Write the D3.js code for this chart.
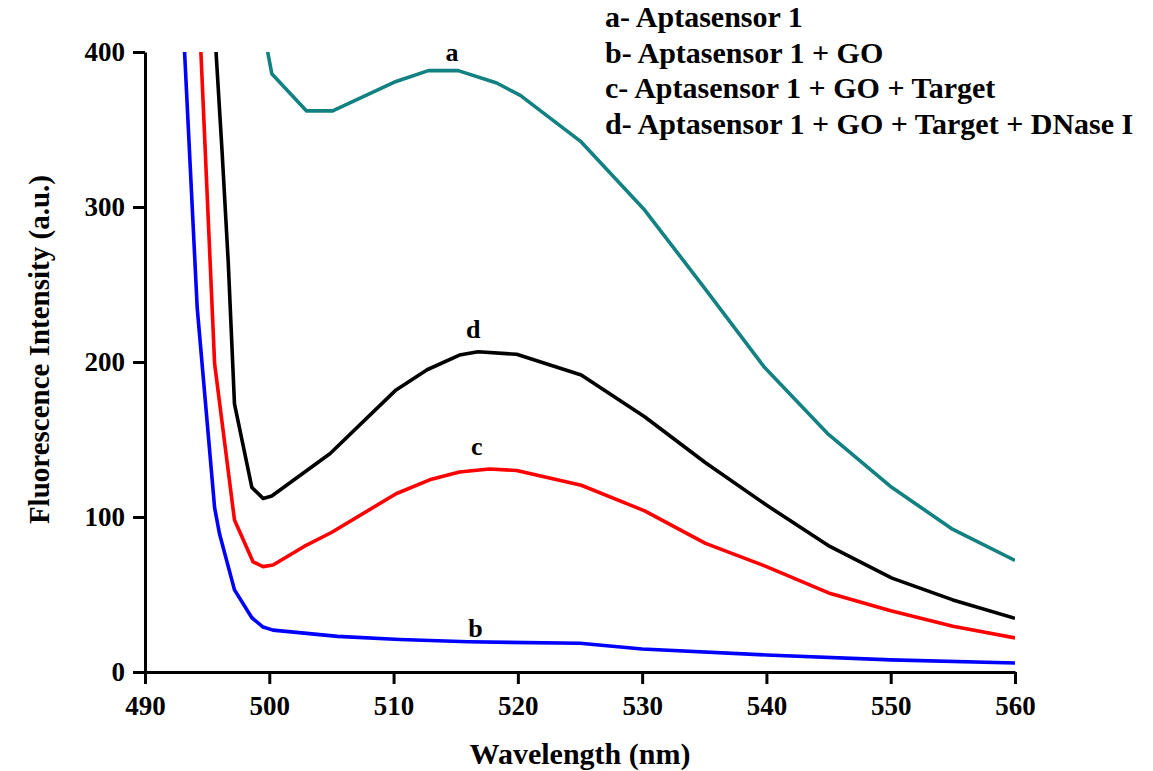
<!DOCTYPE html>
<html>
<head>
<meta charset="utf-8">
<script src="https://cdn.jsdelivr.net/npm/d3@7"></script>
<style>
  body { margin: 0; background: #fff; }
  svg text { font-family: "Liberation Serif", "Times New Roman", serif; font-weight: bold; fill: #000; }
</style>
</head>
<body>
<div id="chart"></div>
<script>
// frame
const MARGINS = { left: 145, right: 138, top: 52, bottom: 99 };
const FRAME_WIDTH = 1153;
const FRAME_HEIGHT = 771;
const VIS_WIDTH = FRAME_WIDTH - MARGINS.left - MARGINS.right;
const VIS_HEIGHT = FRAME_HEIGHT - MARGINS.top - MARGINS.bottom;

// data: [wavelength nm, intensity a.u.]
const curveA = [[499.5,416],[500.2,386],[503,362],[505.1,362],[510.2,381],[512.8,388],[515.2,388],
  [518.3,380],[520.2,372],[525.1,342],[530.2,298],[534.9,249],[539.8,197],[544.9,154],
  [550.1,119],[555,92],[560,72]];
const curveB = [[493.0,430],[494.2,235],[495.6,106],[496.0,89],[497.2,53],[498.6,35],[499.5,29],
  [500.3,27],[505.5,23],[510.5,21],[516,19.5],[525,18.5],[530,14.8],[540,11],[550,7.8],[560,5.8]];
const curveC = [[494.3,436],[495.6,199],[497.2,98],[498.7,71],[499.5,68],[500.3,69],[502.8,81],
  [505,90],[510.2,115],[512.9,124],[515.3,129],[517.7,131],[519.9,130],[525.1,120.5],
  [530.2,104],[535.1,83],[540,68],[545,51],[550,39.5],[555,29.5],[560,22]];
const curveD = [[495.3,455],[496.2,336],[496.7,264],[497.2,173],[498.6,119],[499.5,112],[500.2,113.5],
  [504.9,141],[510.2,182],[512.7,195],[515.3,204.5],[516.8,206.6],[519.9,205],[525.1,191.6],
  [530.2,164.7],[535.1,135],[540,107.7],[545.1,81],[550.1,60.6],[555,46.5],[560,34.6]];

const seriesNames = ["a", "b", "c", "d"];
const seriesColors = ["#128181", "#0000ff", "#ff0000", "#000000"];
// where the little letter sits next to each curve
const labelPos = [[514.7, 394], [516.6, 22.5], [516.7, 140], [516.4, 215.5]];

const legendLines = ["a- Aptasensor 1", "b- Aptasensor 1 + GO", "c- Aptasensor 1 + GO + Target",
  "d- Aptasensor 1 + GO + Target + DNase I"];
const xTicks = [490, 500, 510, 520, 530, 540, 550, 560];
const yTicks = [0, 100, 200, 300, 400];

const FRAME = d3.select("#chart")
    .append("svg")
    .attr("width", FRAME_WIDTH)
    .attr("height", FRAME_HEIGHT);

const xScale = d3.scaleLinear().domain([490, 560]).range([0, VIS_WIDTH]);
const yScale = d3.scaleLinear().domain([0, 400]).range([VIS_HEIGHT, 0]);

const g = FRAME.append("g")
    .attr("transform", "translate(" + MARGINS.left + "," + MARGINS.top + ")");

g.append("clipPath").attr("id", "plotclip")
    .append("rect")
    .attr("x", 0).attr("y", 0)
    .attr("width", VIS_WIDTH).attr("height", VIS_HEIGHT);

const line = d3.line()
    .x(d => xScale(d[0]))
    .y(d => yScale(d[1]));

const allCurves = [curveA, curveB, curveC, curveD];
g.append("g").attr("clip-path", "url(#plotclip)")
    .selectAll("path")
    .data(allCurves)
    .enter()
    .append("path")
    .attr("d", d => line(d))
    .attr("fill", "none")
    .attr("stroke", (d, i) => seriesColors[i])
    .attr("stroke-width", 3.6)
    .attr("stroke-linejoin", "round");

// curve letters
g.selectAll(".lbl")
    .data(labelPos)
    .enter()
    .append("text")
    .attr("class", "lbl")
    .attr("x", d => xScale(d[0]))
    .attr("y", d => yScale(d[1]))
    .attr("text-anchor", "middle")
    .attr("font-size", "26px")
    .text((d, i) => seriesNames[i]);

// axes
const xAxis = g.append("g")
    .attr("transform", "translate(0," + VIS_HEIGHT + ")")
    .call(d3.axisBottom(xScale).tickValues(xTicks).tickSize(12).tickSizeOuter(0).tickPadding(12));
const yAxis = g.append("g")
    .call(d3.axisLeft(yScale).tickValues(yTicks).tickSize(12).tickSizeOuter(0).tickPadding(8));

[xAxis, yAxis].forEach(ax => {
    ax.select(".domain").attr("stroke-width", 3);
    ax.selectAll(".tick line").attr("stroke-width", 3);
    ax.selectAll(".tick text")
        .attr("font-size", "27px")
        .attr("font-family", "Liberation Serif, Times New Roman, serif")
        .attr("font-weight", "bold");
});

// axis titles
FRAME.append("text")
    .attr("x", MARGINS.left + xScale(525))
    .attr("y", 764)
    .attr("text-anchor", "middle")
    .attr("font-size", "30px")
    .text("Wavelength (nm)");

FRAME.append("text")
    .attr("transform", "translate(49," + (MARGINS.top + yScale(208)) + ") rotate(-90)")
    .attr("text-anchor", "middle")
    .attr("font-size", "29px")
    .text("Fluorescence Intensity (a.u.)");

// legend
FRAME.selectAll(".leg")
    .data(legendLines)
    .enter()
    .append("text")
    .attr("class", "leg")
    .attr("x", 605)
    .attr("y", (d, i) => 27 + i * 35.5)
    .attr("font-size", "30px")
    .text(d => d);
</script>
</body>
</html>
